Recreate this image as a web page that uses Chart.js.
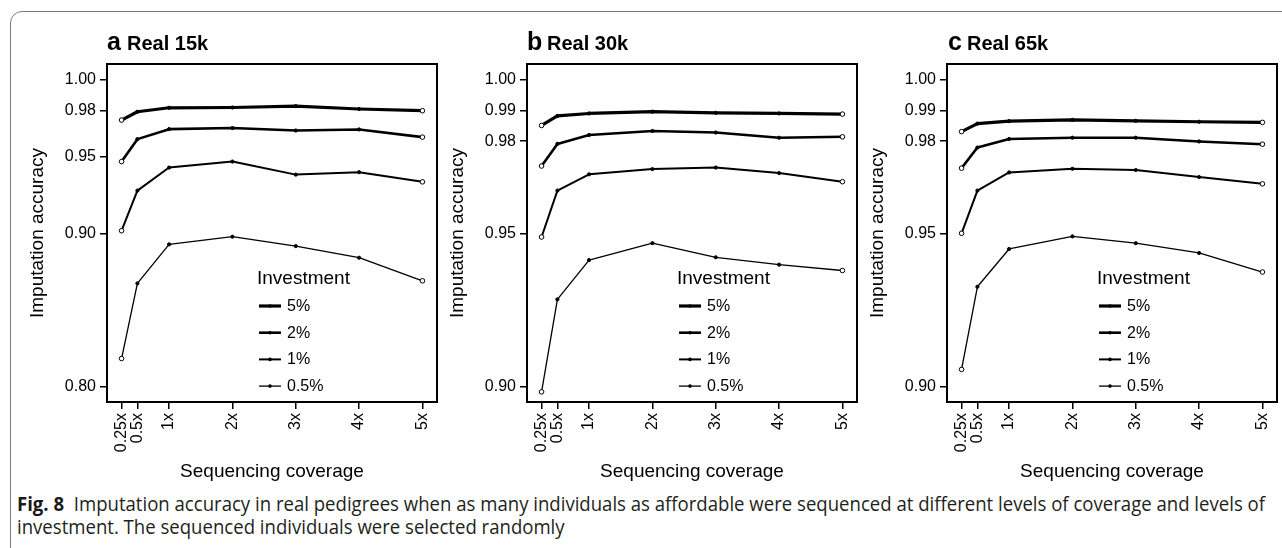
<!DOCTYPE html>
<html>
<head>
<meta charset="utf-8">
<script src="https://cdn.jsdelivr.net/npm/chart.js@4.4.1/dist/chart.umd.min.js"></script>
<style>
  html, body { margin: 0; padding: 0; background: #fff; }
  body { width: 1282px; height: 548px; position: relative; overflow: hidden; }
  .frame { position: absolute; left: 10px; top: 11px; width: 1400px; height: 700px;
           border: 1.5px solid #7a7a7a; border-radius: 12px; box-sizing: border-box; }
  .panel { position: absolute; top: 20px; }
  .cap { position: absolute; left: 17px; font-family: "Open Sans", "Noto Sans", sans-serif;
         font-size: 19.5px; line-height: 23px; color: #231f20; white-space: nowrap;
         transform-origin: 0 0; }
  .cap b { color: #1a1a1a; font-weight: 700; }
</style>
</head>
<body>
<div class="frame"></div>
<canvas id="pa" class="panel" width="435" height="470" style="left:7px"></canvas>
<canvas id="pb" class="panel" width="435" height="470" style="left:427px"></canvas>
<canvas id="pc" class="panel" width="435" height="470" style="left:847px"></canvas>
<div class="cap" id="cap1" style="top:492px"><b>Fig. 8</b>&nbsp; Imputation accuracy in real pedigrees when as many individuals as affordable were sequenced at different levels of coverage and levels of</div>
<div class="cap" id="cap2" style="top:515px">investment. The sequenced individuals were selected randomly</div>

<script>
// Sequencing coverage levels (x positions) and their tick labels
const coverage = [0.25, 0.5, 1, 2, 3, 4, 5];
const coverageLabels = ['0.25x', '0.5x', '1x', '2x', '3x', '4x', '5x'];
const investmentLevels = ['5%', '2%', '1%', '0.5%'];

// Imputation accuracy, Real 15k pedigree
const real15k_5 = [0.9737, 0.9791, 0.9817, 0.9819, 0.9828, 0.9809, 0.9798];
const real15k_2 = [0.9467, 0.9613, 0.9678, 0.9685, 0.9669, 0.9676, 0.9626];
const real15k_1 = [0.9017, 0.9278, 0.9428, 0.9467, 0.9382, 0.9398, 0.9335];
const real15k_05 = [0.8185, 0.8674, 0.8928, 0.8978, 0.8917, 0.8841, 0.8691];

// Imputation accuracy, Real 30k pedigree
const real30k_5 = [0.9851, 0.9882, 0.9890, 0.9896, 0.9892, 0.9890, 0.9888];
const real30k_2 = [0.9719, 0.9791, 0.9820, 0.9833, 0.9828, 0.9811, 0.9814];
const real30k_1 = [0.9488, 0.9639, 0.9692, 0.9709, 0.9714, 0.9696, 0.9668];
const real30k_05 = [0.8984, 0.9285, 0.9413, 0.9468, 0.9422, 0.9398, 0.9379];

// Imputation accuracy, Real 65k pedigree
const real65k_5 = [0.9831, 0.9857, 0.9865, 0.9869, 0.9866, 0.9863, 0.9861];
const real65k_2 = [0.9712, 0.9779, 0.9807, 0.9811, 0.9811, 0.9799, 0.9790];
const real65k_1 = [0.9500, 0.9639, 0.9698, 0.9710, 0.9706, 0.9683, 0.9661];
const real65k_05 = [0.9057, 0.9326, 0.9449, 0.9490, 0.9468, 0.9436, 0.9374];

// Y tick labels
const yTicks15k = [0.80, 0.90, 0.95, 0.98, 1.00];
const yTicks30k = [0.90, 0.95, 0.98, 0.99, 1.00];
const yTicks65k = [0.90, 0.95, 0.98, 0.99, 1.00];

// ---- styling ----
const FONT = '"Liberation Sans", Arial, Helvetica, sans-serif';
const lineWidths = [3.2, 2.6, 2.0, 1.3];

const panelDecor = {
  id: 'panelDecor',
  afterDatasetsDraw(chart) {
    const { ctx, chartArea: a } = chart;
    const o = chart.options.plugins.panelDecor;
    ctx.save();
    // plot box
    ctx.strokeStyle = '#000';
    ctx.lineWidth = 2;
    ctx.strokeRect(a.left, a.top, a.right - a.left, a.bottom - a.top);

    // panel heading
    ctx.fillStyle = '#000';
    ctx.textBaseline = 'alphabetic';
    ctx.textAlign = 'left';
    ctx.font = 'bold 25px ' + FONT;
    ctx.fillText(o.letter, a.left + o.letterDx, a.top - 14.5);
    ctx.font = 'bold 20px ' + FONT;
    ctx.fillText(o.name, a.left + 20, a.top - 14.5);

    // legend
    ctx.textBaseline = 'middle';
    ctx.font = '19px ' + FONT;
    ctx.fillText('Investment', a.left + 150, a.top + 215);
    ctx.font = '16px ' + FONT;
    chart.data.datasets.forEach((ds, i) => {
      const y = a.top + 242 + i * 26.7;
      ctx.strokeStyle = '#000';
      ctx.lineWidth = ds.borderWidth;
      ctx.beginPath();
      ctx.moveTo(a.left + 152, y);
      ctx.lineTo(a.left + 174, y);
      ctx.stroke();
      ctx.beginPath();
      ctx.arc(a.left + 163, y, 1.8, 0, Math.PI * 2);
      ctx.fill();
      ctx.fillText(ds.label, a.left + 180, y + 0.5);
    });
    ctx.restore();
  }
};

function makeDataset(label, values, i) {
  const n = values.length;
  return {
    label,
    data: values.map((v, k) => ({ x: coverage[k], y: v })),
    borderColor: '#000',
    borderWidth: lineWidths[i],
    borderJoinStyle: 'round',
    borderCapStyle: 'round',
    tension: 0,
    pointRadius: values.map((v, k) => (k === 0 || k === n - 1) ? 2.3 : 1.6),
    pointBorderWidth: 1,
    pointBorderColor: '#000',
    pointBackgroundColor: values.map((v, k) => (k === 0 || k === n - 1) ? '#fff' : '#000')
  };
}

function makePanel(id, letter, letterDx, name, series, yTicks, yMin, yMax) {
  new Chart(document.getElementById(id), {
    type: 'line',
    data: {
      datasets: series.map((vals, i) => makeDataset(investmentLevels[i], vals, i))
    },
    plugins: [panelDecor],
    options: {
      responsive: false,
      animation: false,
      devicePixelRatio: 1,
      layout: { padding: { top: 44, right: 4, left: 0, bottom: 0 } },
      plugins: {
        legend: { display: false },
        tooltip: { enabled: false },
        panelDecor: { letter, letterDx, name }
      },
      scales: {
        x: {
          type: 'linear',
          min: 0.02,
          max: 5.23,
          afterBuildTicks: s => { s.ticks = coverage.map(v => ({ value: v })); },
          afterFit: s => { s.height = 88; s.paddingLeft = 0; s.paddingRight = 0; },
          ticks: {
            autoSkip: false, minRotation: 90, maxRotation: 90, padding: 4,
            color: '#000', font: { size: 16, family: FONT },
            callback: (v, i) => coverageLabels[i]
          },
          grid: { drawOnChartArea: false, drawTicks: true, tickLength: 7, color: '#000', lineWidth: 1.5 },
          border: { display: false },
          title: {
            display: true, text: 'Sequencing coverage', color: '#000',
            font: { size: 19, family: FONT }, padding: { top: 0, bottom: 7 }
          }
        },
        y: {
          type: 'linear',
          min: yMin,
          max: yMax,
          afterBuildTicks: s => { s.ticks = yTicks.map(v => ({ value: v })); },
          afterFit: s => { s.width = 100; s.paddingTop = 0; s.paddingBottom = 0; },
          ticks: {
            padding: 4, color: '#000', font: { size: 16, family: FONT },
            callback: v => Number(v).toFixed(2)
          },
          grid: { drawOnChartArea: false, drawTicks: true, tickLength: 7, color: '#000', lineWidth: 1.5 },
          border: { display: false },
          title: {
            display: true, text: 'Imputation accuracy', color: '#000',
            font: { size: 19, family: FONT }, padding: { top: 19, bottom: 0 }
          }
        }
      }
    }
  });
}

makePanel('pa', 'a', 0, 'Real 15k', [real15k_5, real15k_2, real15k_1, real15k_05], yTicks15k, 0.7902, 1.0102);
makePanel('pb', 'b', 0, 'Real 30k', [real30k_5, real30k_2, real30k_1, real30k_05], yTicks30k, 0.8951, 1.0051);
makePanel('pc', 'c', 1, 'Real 65k', [real65k_5, real65k_2, real65k_1, real65k_05], yTicks65k, 0.8951, 1.0051);

// caption lines are narrowed to the column width
function fitCaption() {
  const l1 = document.getElementById('cap1');
  const l2 = document.getElementById('cap2');
  l1.style.transform = l2.style.transform = 'none';
  const w = l1.getBoundingClientRect().width;
  const s = 1248 / w;
  l1.style.transform = l2.style.transform = 'scaleX(' + s + ')';
}
fitCaption();
if (document.fonts && document.fonts.ready) document.fonts.ready.then(fitCaption);
</script>
</body>
</html>
